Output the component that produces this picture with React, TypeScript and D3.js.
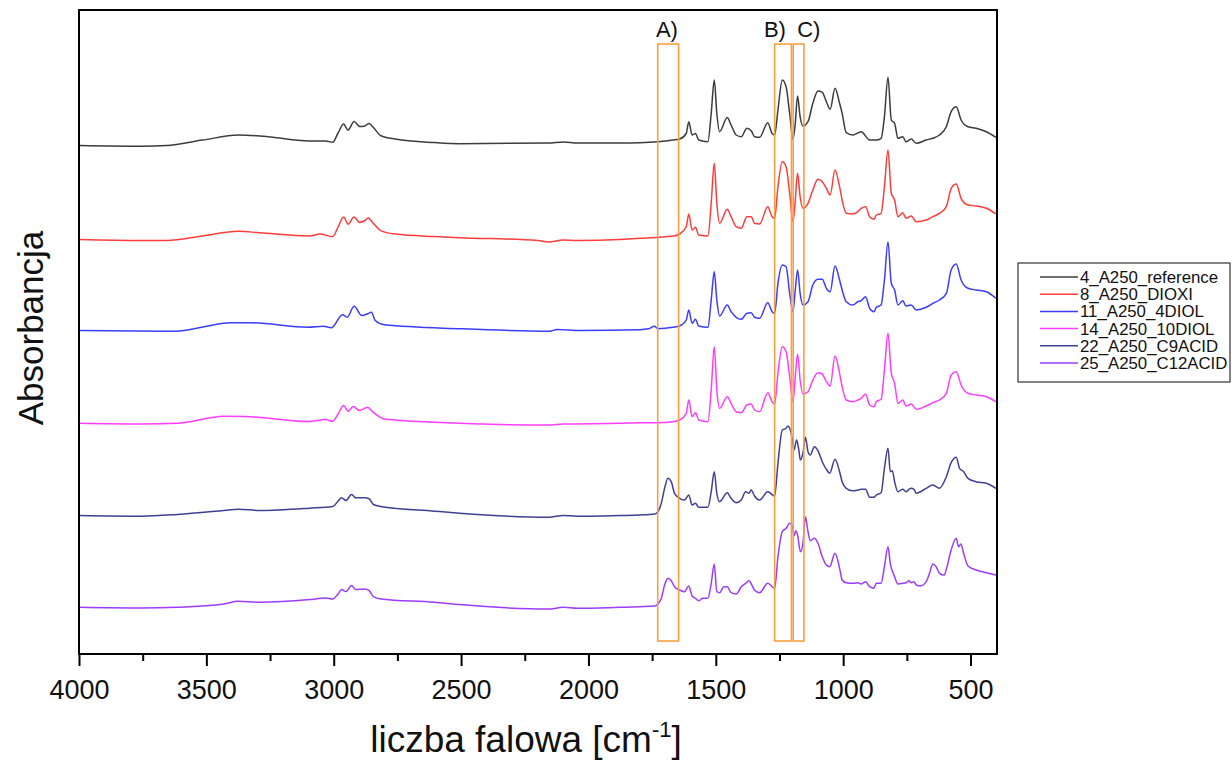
import * as d3 from 'd3';

// FTIR spectra, [wavenumber cm-1, absorbance above the spectrum's own baseline]
const ref4: [number, number][] = [[4000,0],[3757,-0.007],[3658,0],[3517,0.054],[3377,0.104],[3293,0.096],[3097,0.046],[3034,0.046],[3006,0.032],[2985,0.125],[2963,0.214],[2946,0.154],[2922,0.239],[2900,0.19],[2880,0.196],[2863,0.22],[2846,0.18],[2818,0.10],[2760,0.064],[2606,0.029],[2508,0.018],[2158,0.025],[2101,0.036],[2045,0.025],[1880,0.025],[1801,0.028],[1729,0.038],[1670,0.055],[1644,0.065],[1618,0.12],[1608,0.238],[1595,0.105],[1582,0.12],[1569,0.055],[1533,0.038],[1520,0.32],[1508,0.655],[1498,0.32],[1487,0.138],[1457,0.28],[1442,0.205],[1422,0.105],[1402,0.088],[1380,0.172],[1363,0.148],[1350,0.088],[1330,0.082],[1298,0.228],[1281,0.12],[1271,0.105],[1258,0.355],[1241,0.655],[1226,0.588],[1212,0.32],[1199,0.062],[1190,0.222],[1181,0.495],[1171,0.288],[1160,0.195],[1140,0.238],[1121,0.422],[1101,0.545],[1084,0.532],[1068,0.438],[1053,0.362],[1034,0.572],[1016,0.422],[1006,0.322],[990,0.128],[964,0.105],[931,0.138],[898,0.055],[872,0.055],[853,0.072],[840,0.288],[826,0.682],[813,0.255],[800,0.222],[787,0.072],[768,0.088],[755,0.038],[735,0.065],[715,0.022],[676,0.055],[650,0.072],[624,0.105],[597,0.188],[578,0.338],[558,0.388],[539,0.255],[512,0.188],[480,0.172],[440,0.138],[402,0.082]];

const dioxi8: [number, number][] = [[4000,0],[3757,-0.01],[3658,-0.01],[3517,0.036],[3377,0.082],[3293,0.068],[3097,0.036],[3055,0.054],[3006,0.029],[2985,0.125],[2963,0.225],[2946,0.154],[2922,0.225],[2900,0.171],[2880,0.19],[2867,0.214],[2846,0.16],[2818,0.089],[2760,0.054],[2606,0.029],[2508,0.018],[2200,-0.01],[2158,-0.025],[2101,-0.004],[2045,-0.01],[1880,0],[1801,0.012],[1729,0.022],[1670,0.035],[1644,0.055],[1618,0.128],[1608,0.255],[1595,0.095],[1582,0.122],[1569,0.045],[1533,0.035],[1520,0.362],[1508,0.762],[1498,0.362],[1487,0.162],[1457,0.302],[1442,0.228],[1422,0.128],[1402,0.112],[1380,0.228],[1363,0.228],[1350,0.162],[1330,0.155],[1298,0.328],[1281,0.228],[1271,0.212],[1258,0.528],[1241,0.778],[1226,0.728],[1212,0.462],[1199,0.178],[1190,0.395],[1181,0.662],[1171,0.428],[1160,0.312],[1140,0.362],[1121,0.495],[1101,0.602],[1084,0.578],[1068,0.512],[1053,0.445],[1034,0.695],[1016,0.528],[1006,0.395],[990,0.262],[964,0.255],[944,0.278],[931,0.312],[914,0.328],[898,0.228],[881,0.202],[872,0.245],[853,0.262],[840,0.528],[826,0.895],[813,0.462],[800,0.395],[787,0.228],[768,0.268],[755,0.212],[735,0.235],[715,0.178],[676,0.195],[650,0.228],[624,0.262],[597,0.328],[578,0.512],[558,0.555],[539,0.412],[512,0.345],[480,0.335],[440,0.312],[402,0.255]];

const diol4_11: [number, number][] = [[4000,0],[3628,-0.008],[3403,0.077],[3329,0.077],[3102,0.033],[3042,0.043],[3012,0.027],[2967,0.157],[2949,0.133],[2922,0.243],[2892,0.15],[2869,0.167],[2854,0.183],[2839,0.10],[2802,0.057],[2501,0.017],[2155,-0.007],[2125,0.01],[2035,0],[1801,0.008],[1766,0.017],[1743,0.043],[1729,0.018],[1670,0.032],[1644,0.045],[1618,0.105],[1608,0.205],[1595,0.072],[1582,0.112],[1569,0.045],[1533,0.032],[1520,0.305],[1508,0.588],[1498,0.305],[1487,0.145],[1457,0.255],[1442,0.188],[1422,0.132],[1402,0.112],[1380,0.172],[1363,0.178],[1350,0.132],[1330,0.122],[1298,0.278],[1281,0.188],[1271,0.172],[1258,0.472],[1241,0.655],[1226,0.638],[1212,0.372],[1199,0.188],[1190,0.405],[1181,0.605],[1171,0.372],[1160,0.255],[1140,0.288],[1121,0.455],[1101,0.512],[1084,0.512],[1068,0.422],[1053,0.388],[1034,0.645],[1016,0.505],[1006,0.405],[990,0.288],[964,0.255],[944,0.288],[931,0.298],[914,0.338],[898,0.222],[881,0.188],[872,0.232],[853,0.255],[840,0.505],[826,0.888],[813,0.472],[800,0.405],[787,0.255],[768,0.298],[755,0.245],[735,0.255],[715,0.205],[676,0.232],[650,0.272],[624,0.305],[597,0.372],[578,0.605],[558,0.665],[539,0.505],[512,0.422],[480,0.405],[440,0.388],[402,0.322]];

const diol10_14: [number, number][] = [[4000,0],[3757,-0.007],[3616,0],[3433,0.07],[3349,0.067],[3097,0.017],[3034,0.037],[3006,0.02],[2985,0.093],[2963,0.177],[2946,0.12],[2926,0.167],[2900,0.127],[2870,0.16],[2846,0.11],[2803,0.043],[2606,0.01],[2158,-0.017],[2101,-0.007],[1880,0],[1801,0.006],[1729,0.006],[1670,0.016],[1644,0.033],[1618,0.1],[1608,0.233],[1595,0.066],[1582,0.106],[1569,0.033],[1533,0.016],[1520,0.333],[1508,0.766],[1498,0.333],[1487,0.15],[1457,0.266],[1442,0.2],[1422,0.116],[1402,0.106],[1380,0.183],[1363,0.193],[1350,0.133],[1330,0.116],[1298,0.306],[1281,0.216],[1271,0.193],[1258,0.5],[1241,0.766],[1226,0.716],[1212,0.466],[1199,0.216],[1190,0.466],[1181,0.693],[1171,0.433],[1160,0.293],[1140,0.316],[1121,0.433],[1101,0.506],[1084,0.493],[1068,0.416],[1053,0.373],[1034,0.673],[1016,0.5],[1006,0.366],[990,0.233],[964,0.216],[944,0.233],[931,0.25],[914,0.293],[898,0.183],[881,0.166],[872,0.216],[853,0.24],[840,0.533],[826,0.9],[813,0.5],[800,0.4],[787,0.2],[768,0.233],[755,0.173],[735,0.193],[715,0.14],[676,0.173],[650,0.206],[624,0.233],[597,0.3],[578,0.483],[558,0.516],[539,0.383],[512,0.3],[480,0.283],[440,0.266],[402,0.216]];

const c9acid22: [number, number][] = [[4000,0],[3757,-0.007],[3616,0.01],[3433,0.05],[3377,0.063],[3293,0.05],[3097,0.073],[3006,0.09],[2985,0.143],[2971,0.177],[2954,0.15],[2932,0.21],[2915,0.177],[2880,0.177],[2863,0.167],[2846,0.11],[2818,0.09],[2606,0.043],[2508,0.023],[2158,-0.017],[2101,0],[2045,-0.007],[1880,0],[1801,0.005],[1742,0.015],[1729,0.038],[1716,0.122],[1703,0.272],[1690,0.372],[1677,0.338],[1664,0.222],[1644,0.172],[1625,0.155],[1608,0.205],[1595,0.105],[1582,0.122],[1569,0.082],[1533,0.082],[1520,0.238],[1508,0.438],[1498,0.222],[1487,0.138],[1457,0.228],[1442,0.172],[1422,0.128],[1402,0.155],[1385,0.238],[1372,0.222],[1363,0.255],[1350,0.195],[1330,0.155],[1298,0.238],[1271,0.195],[1258,0.522],[1241,0.855],[1226,0.872],[1219,0.895],[1212,0.872],[1201,0.755],[1195,0.655],[1185,0.755],[1176,0.655],[1170,0.555],[1160,0.622],[1150,0.782],[1140,0.638],[1131,0.605],[1115,0.688],[1101,0.648],[1084,0.538],[1068,0.462],[1055,0.422],[1034,0.562],[1016,0.438],[1006,0.338],[990,0.272],[964,0.248],[944,0.255],[931,0.262],[914,0.262],[898,0.182],[881,0.182],[872,0.205],[853,0.228],[840,0.472],[826,0.672],[817,0.438],[809,0.448],[800,0.338],[787,0.238],[768,0.262],[755,0.238],[744,0.262],[735,0.272],[724,0.262],[715,0.222],[699,0.238],[676,0.272],[650,0.305],[624,0.272],[597,0.388],[578,0.528],[558,0.582],[545,0.472],[529,0.438],[512,0.372],[480,0.338],[440,0.322],[402,0.272]];

const c12acid25: [number, number][] = [[4000,0],[3757,-0.007],[3616,0],[3433,0.033],[3377,0.06],[3293,0.05],[3097,0.077],[3034,0.093],[3006,0.083],[2985,0.133],[2971,0.177],[2954,0.157],[2932,0.217],[2915,0.177],[2880,0.183],[2863,0.167],[2846,0.107],[2818,0.083],[2606,0.05],[2508,0.027],[2158,-0.017],[2101,0],[2045,-0.01],[1880,0],[1801,0.006],[1742,0.013],[1729,0.033],[1716,0.09],[1703,0.223],[1690,0.29],[1677,0.266],[1664,0.206],[1644,0.173],[1625,0.156],[1608,0.213],[1595,0.113],[1582,0.09],[1569,0.066],[1553,0.09],[1533,0.09],[1520,0.24],[1508,0.433],[1498,0.156],[1487,0.146],[1470,0.206],[1457,0.206],[1442,0.146],[1422,0.133],[1402,0.206],[1385,0.24],[1372,0.266],[1350,0.173],[1330,0.146],[1298,0.24],[1271,0.19],[1258,0.506],[1241,0.756],[1226,0.79],[1212,0.84],[1201,0.813],[1195,0.713],[1188,0.766],[1181,0.723],[1170,0.556],[1160,0.64],[1150,0.906],[1140,0.756],[1131,0.666],[1115,0.69],[1101,0.64],[1084,0.506],[1068,0.423],[1055,0.406],[1034,0.54],[1016,0.39],[1006,0.273],[990,0.246],[964,0.24],[944,0.246],[931,0.233],[914,0.256],[898,0.206],[881,0.19],[872,0.24],[853,0.24],[840,0.406],[826,0.606],[817,0.44],[800,0.306],[787,0.233],[768,0.24],[755,0.246],[744,0.266],[735,0.246],[724,0.256],[715,0.223],[699,0.213],[676,0.256],[663,0.34],[650,0.433],[637,0.406],[624,0.34],[605,0.323],[597,0.38],[578,0.573],[558,0.69],[549,0.606],[540,0.633],[529,0.54],[512,0.413],[480,0.373],[440,0.346],[402,0.323]];

const seriesNames = ['4_A250_reference', '8_A250_DIOXI', '11_A250_4DIOL', '14_A250_10DIOL', '22_A250_C9ACID', '25_A250_C12ACID'];
const seriesData = [ref4, dioxi8, diol4_11, diol10_14, c9acid22, c12acid25];
const seriesOffsets = [5.085, 4.145, 3.235, 2.307, 1.385, 0.467];
const seriesColors = ['#1a1a1a', '#ff1a1a', '#1a1aff', '#ff1aff', '#1f1f80', '#8a1aff'];

const majorTicks = [4000, 3500, 3000, 2500, 2000, 1500, 1000, 500];
const minorTicks = [3750, 3250, 2750, 2250, 1750, 1250, 750];

// marked regions: [label, from, to] in cm-1
const regions: [string, number, number][] = [['A)', 1730, 1648], ['B)', 1271, 1205], ['C)', 1198, 1156]];
const regionLabelAt = [1694, 1270, 1137];

const W = 1232, H = 762;
const plot = { left: 79, right: 997, top: 10, bottom: 654 };

export default function App() {
  const x = d3.scaleLinear().domain([4000, 400]).range([plot.left + 0.5, plot.right - 0.5]);
  const y = d3.scaleLinear().domain([0, 6.44]).range([plot.bottom, plot.top]);

  const paths = seriesData.map((pts, i) =>
    d3.line<[number, number]>()
      .x(d => x(d[0]))
      .y(d => y(d[1] + seriesOffsets[i]))
      .curve(d3.curveMonotoneX)(pts) || ''
  );

  const legendX = 1018, legendY = 263;

  return (
    <svg width={W} height={H} style={{ position: 'absolute', left: 0, top: 0, background: '#fff' }}
      fontFamily="'Liberation Sans', Arial, sans-serif">
      {paths.map((p, i) => (
        <path key={seriesNames[i]} d={p} fill="none" stroke={seriesColors[i]} strokeWidth={1.5} strokeOpacity={0.85} />
      ))}

      {regions.map(([label, a, b]) => (
        <rect key={label} x={x(a)} y={y(6.1)} width={x(b) - x(a)} height={y(0.13) - y(6.1)}
          fill="none" stroke="#f8a040" strokeWidth={1.6} />
      ))}
      {regions.map(([label], i) => (
        <text key={label} x={x(regionLabelAt[i])} y={37} fontSize={22} textAnchor="middle" fill="#111">{label}</text>
      ))}

      <rect x={plot.left} y={plot.top} width={plot.right - plot.left} height={plot.bottom - plot.top}
        fill="none" stroke="#000" strokeWidth={2} />

      {majorTicks.map(t => (
        <g key={t}>
          <line x1={x(t)} x2={x(t)} y1={plot.bottom} y2={plot.bottom + 12} stroke="#000" strokeWidth={2} />
          <text x={x(t)} y={699} fontSize={27} textAnchor="middle" fill="#111">{t}</text>
        </g>
      ))}
      {minorTicks.map(t => (
        <line key={t} x1={x(t)} x2={x(t)} y1={plot.bottom} y2={plot.bottom + 7} stroke="#000" strokeWidth={2} />
      ))}

      <text x={526} y={752} fontSize={37} textAnchor="middle" fill="#111">
        liczba falowa [cm<tspan fontSize={22} dy={-15}>-1</tspan><tspan dy={15}>]</tspan>
      </text>
      <text transform="translate(43,328) rotate(-90)" fontSize={35} textAnchor="middle" fill="#111">Absorbancja</text>

      <rect x={legendX} y={legendY} width={212} height={119} fill="#fff" stroke="#333" strokeWidth={1.2} />
      {seriesNames.map((n, i) => {
        const cy = legendY + 14 + i * 17.2;
        return (
          <g key={n}>
            <line x1={1040} x2={1078} y1={cy} y2={cy} stroke={seriesColors[i]} strokeWidth={1.5} strokeOpacity={0.85} />
            <text x={1080} y={cy + 5.9} fontSize={16.8} fill="#111">{n}</text>
          </g>
        );
      })}
    </svg>
  );
}
